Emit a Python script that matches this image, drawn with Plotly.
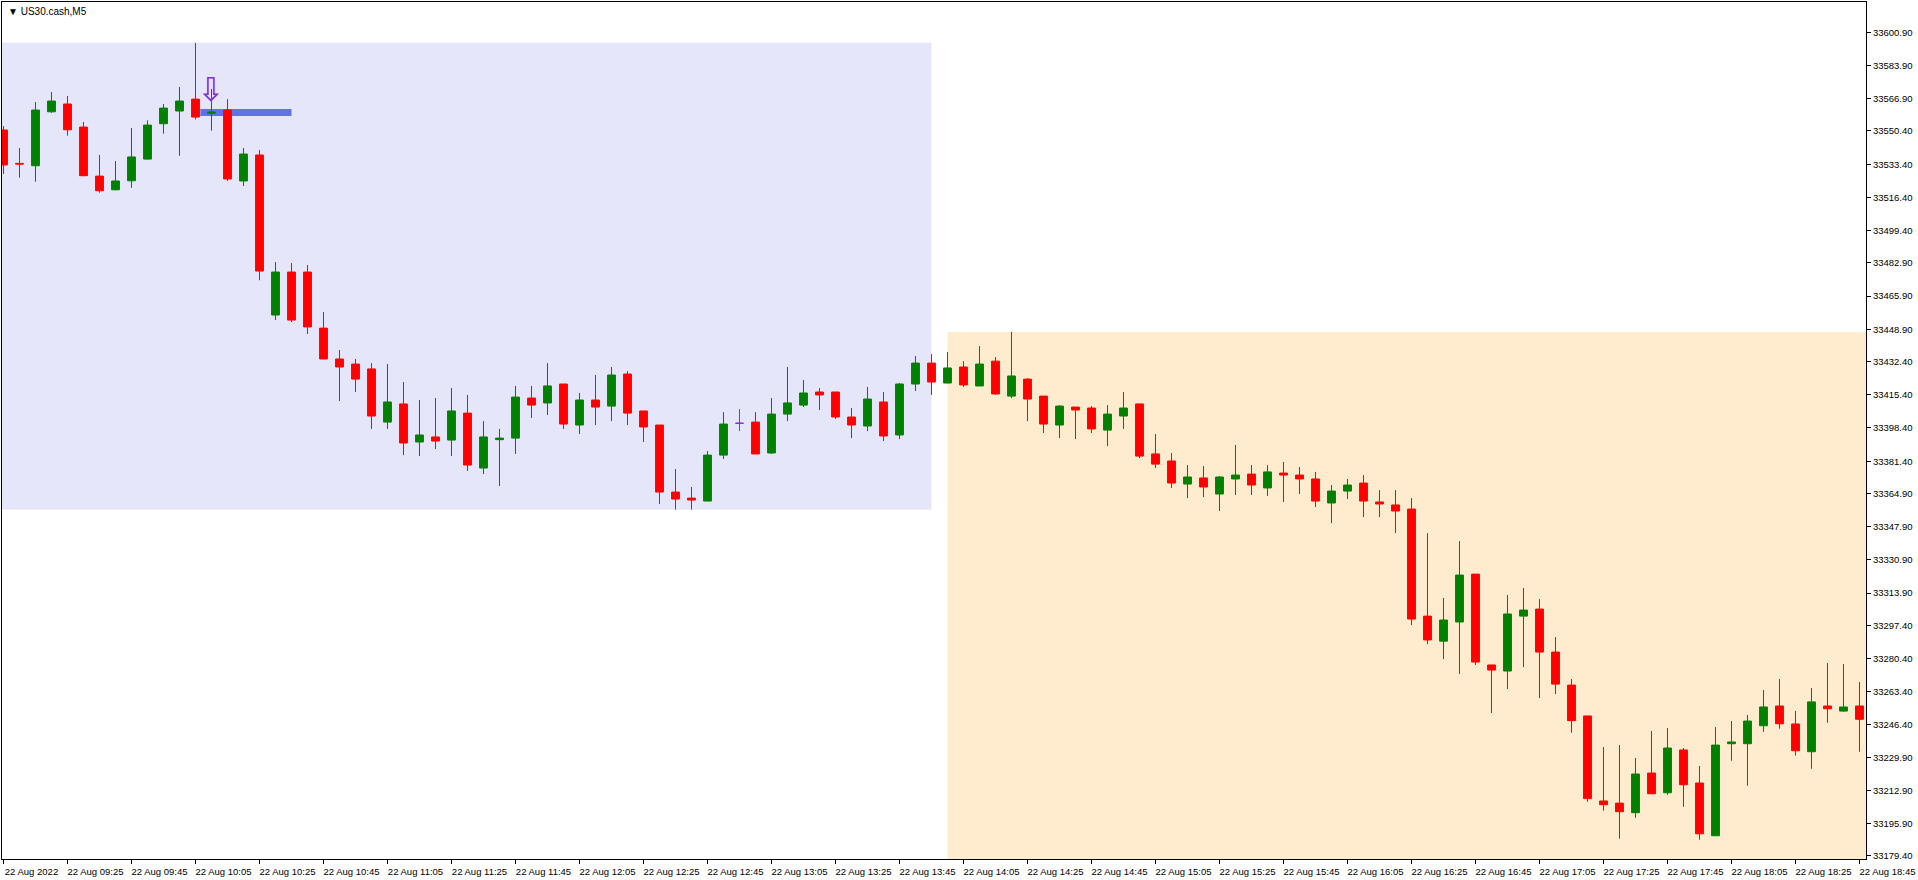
import pandas as pd
import plotly.graph_objects as go

# US30.cash M5 bars, 22 Aug 2022 09:05 .. 18:45
bar_times = pd.date_range('2022-08-22 09:05', periods=117, freq='5min')

opens = [33550.9, 33533.8, 33532.6, 33560.2, 33564.2, 33552.4, 33527.3, 33520.3, 33524.9, 33536.0,
         33554.1, 33560.6, 33566.7, 33559.5, 33561.1, 33524.8, 33538.1, 33456.2, 33478.2, 33478.2,
         33449.5, 33433.7, 33431.1, 33428.6, 33401.4, 33410.7, 33391.2, 33393.8, 33392.2, 33406.0,
         33377.9, 33392.4, 33393.2, 33413.7, 33411.2, 33420.9, 33399.9, 33412.7, 33409.6, 33426.0,
         33407.1, 33399.9, 33365.6, 33362.5, 33361.0, 33384.5, 33400.8, 33401.4, 33385.6, 33405.5,
         33410.1, 33416.8, 33416.8, 33404.0, 33399.4, 33411.7, 33394.8, 33420.9, 33431.6, 33421.4,
         33429.6, 33419.9, 33432.6, 33414.7, 33423.4, 33414.7, 33399.9, 33409.1, 33408.6, 33397.3,
         33404.5, 33410.7, 33385.1, 33381.5, 33369.7, 33372.8, 33364.6, 33372.3, 33374.8, 33367.7,
         33375.3, 33374.3, 33372.3, 33360.0, 33366.1, 33370.2, 33360.5, 33359.0, 33356.9, 33302.1,
         33289.3, 33299.1, 33323.6, 33277.1, 33274.0, 33302.1, 33305.7, 33283.7, 33266.8, 33251.0,
         33207.5, 33206.4, 33201.5, 33221.8, 33211.7, 33233.6, 33216.7, 33189.7, 33236.8, 33236.8,
         33246.0, 33256.1, 33246.9, 33232.7, 33256.1, 33253.5, 33256.1]
highs = [33552.9, 33541.7, 33565.2, 33570.3, 33568.3, 33555.0, 33538.1, 33535.0, 33551.9, 33555.8,
         33564.2, 33572.9, 33595.5, 33571.9, 33566.7, 33541.7, 33540.6, 33483.3, 33482.8, 33481.8,
         33457.7, 33438.3, 33433.7, 33431.6, 33431.1, 33421.9, 33412.7, 33413.7, 33418.8, 33415.3,
         33401.9, 33397.9, 33419.9, 33419.9, 33431.6, 33420.9, 33416.3, 33425.5, 33429.6, 33427.5,
         33407.1, 33399.9, 33377.4, 33368.2, 33386.6, 33406.5, 33408.1, 33406.5, 33413.7, 33429.6,
         33422.9, 33418.8, 33416.8, 33408.6, 33419.4, 33416.8, 33421.4, 33435.2, 33436.2, 33437.3,
         33432.6, 33440.3, 33434.7, 33447.5, 33423.9, 33414.7, 33410.1, 33409.1, 33409.6, 33410.1,
         33416.8, 33410.7, 33395.3, 33385.6, 33379.4, 33378.9, 33373.8, 33389.7, 33379.4, 33379.4,
         33381.0, 33378.4, 33375.9, 33369.2, 33372.3, 33374.3, 33366.6, 33366.6, 33362.5, 33344.6,
         33311.4, 33340.5, 33323.6, 33277.1, 33312.9, 33316.5, 33310.8, 33291.4, 33269.9, 33251.0,
         33235.1, 33236.1, 33229.5, 33243.3, 33244.8, 33234.6, 33225.4, 33245.3, 33248.4, 33251.5,
         33264.3, 33269.9, 33253.6, 33265.3, 33278.1, 33277.6, 33268.4]
lows = [33528.4, 33526.5, 33524.4, 33559.7, 33548.0, 33527.3, 33518.8, 33520.0, 33521.3, 33535.9,
        33549.0, 33537.7, 33556.3, 33550.5, 33524.8, 33522.2, 33474.0, 33453.6, 33452.6, 33446.5,
        33433.6, 33412.2, 33416.8, 33397.9, 33397.9, 33384.5, 33384.0, 33387.6, 33384.0, 33376.4,
        33374.8, 33368.7, 33385.1, 33403.5, 33405.0, 33397.9, 33395.3, 33399.9, 33401.9, 33399.9,
        33391.2, 33359.5, 33356.6, 33356.6, 33361.0, 33382.5, 33396.8, 33385.0, 33385.1, 33401.9,
        33409.1, 33407.6, 33403.0, 33393.2, 33396.8, 33391.7, 33392.7, 33417.3, 33415.3, 33421.3,
        33419.4, 33419.8, 33415.3, 33413.7, 33401.9, 33395.8, 33393.2, 33392.7, 33395.8, 33389.1,
        33397.9, 33383.0, 33377.9, 33367.7, 33362.5, 33363.0, 33355.9, 33364.1, 33364.1, 33363.6,
        33360.5, 33364.6, 33357.9, 33349.7, 33362.0, 33352.8, 33352.8, 33344.6, 33297.5, 33287.8,
        33280.1, 33272.5, 33277.1, 33252.5, 33264.8, 33276.0, 33260.2, 33262.2, 33242.4, 33207.1,
        33202.5, 33188.2, 33198.9, 33211.0, 33210.7, 33204.5, 33187.7, 33189.6, 33228.1, 33215.3,
        33242.9, 33244.5, 33230.7, 33224.0, 33247.5, 33253.2, 33232.7]
closes = [33533.0, 33533.5, 33561.1, 33565.7, 33551.0, 33527.5, 33519.8, 33524.8, 33537.1, 33553.4,
          33562.1, 33565.7, 33557.5, 33560.0, 33525.8, 33538.6, 33478.7, 33478.2, 33453.6, 33450.1,
          33433.7, 33429.6, 33423.4, 33404.5, 33411.7, 33390.7, 33394.8, 33391.7, 33407.1, 33379.4,
          33393.8, 33393.2, 33414.2, 33410.1, 33419.9, 33400.4, 33412.7, 33409.1, 33425.5, 33406.0,
          33398.9, 33365.6, 33362.0, 33361.5, 33384.5, 33400.4, 33400.8, 33385.1, 33405.5, 33411.2,
          33416.3, 33415.3, 33404.0, 33399.9, 33413.2, 33394.3, 33420.9, 33431.6, 33421.9, 33429.1,
          33420.4, 33431.1, 33415.8, 33425.0, 33413.2, 33400.4, 33409.6, 33407.6, 33397.9, 33405.5,
          33408.6, 33384.0, 33379.9, 33370.2, 33373.3, 33368.2, 33373.3, 33374.3, 33369.2, 33375.9,
          33374.3, 33372.3, 33361.0, 33366.1, 33369.2, 33361.0, 33359.5, 33355.9, 33300.6, 33289.9,
          33300.1, 33323.1, 33278.6, 33274.5, 33303.2, 33305.2, 33283.7, 33267.3, 33248.6, 33208.7,
          33205.6, 33202.0, 33221.3, 33211.2, 33234.6, 33215.8, 33190.7, 33236.1, 33237.7, 33248.4,
          33255.6, 33247.0, 33233.2, 33258.2, 33254.7, 33255.6, 33249.3]

# bar drawn in the object colour instead of bull/bear colour
marked_bar = 46

# objects on the chart
sell_zone = dict(start='2022-08-22 09:00', end='2022-08-22 13:55', low=33356.6, high=33595.5)
buy_zone = dict(start='2022-08-22 14:00', end='2022-08-22 19:00', low=33170.0, high=33447.5)
level = dict(start='2022-08-22 10:06:30', end='2022-08-22 10:35', price=33559.9)
arrow = dict(time=bar_times[13], price=33565.7)

price_ticks = [33600.90, 33583.90, 33566.90, 33550.40, 33533.40, 33516.40, 33499.40, 33482.90,
               33465.90, 33448.90, 33432.40, 33415.40, 33398.40, 33381.40, 33364.90, 33347.90,
               33330.90, 33313.90, 33297.40, 33280.40, 33263.40, 33246.40, 33229.90, 33212.90,
               33195.90, 33179.40]
time_ticks = pd.date_range('2022-08-22 09:05', '2022-08-22 18:45', freq='20min')
time_labels = ['22 Aug 2022', '22 Aug 09:25', '22 Aug 09:45', '22 Aug 10:05', '22 Aug 10:25',
               '22 Aug 10:45', '22 Aug 11:05', '22 Aug 11:25', '22 Aug 11:45', '22 Aug 12:05',
               '22 Aug 12:25', '22 Aug 12:45', '22 Aug 13:05', '22 Aug 13:25', '22 Aug 13:45',
               '22 Aug 14:05', '22 Aug 14:25', '22 Aug 14:45', '22 Aug 15:05', '22 Aug 15:25',
               '22 Aug 15:45', '22 Aug 16:05', '22 Aug 16:25', '22 Aug 16:45', '22 Aug 17:05',
               '22 Aug 17:25', '22 Aug 17:45', '22 Aug 18:05', '22 Aug 18:25', '22 Aug 18:45']

df = pd.DataFrame({'time': bar_times, 'open': opens, 'high': highs, 'low': lows, 'close': closes})
normal = df.drop(index=marked_bar)
marked = df.loc[[marked_bar]]

FONT = 'Liberation Sans, Arial, sans-serif'

fig = go.Figure()
fig.add_trace(go.Candlestick(
    x=normal['time'], open=normal['open'], high=normal['high'], low=normal['low'], close=normal['close'],
    increasing=dict(line=dict(color='#008000', width=1), fillcolor='#008000'),
    decreasing=dict(line=dict(color='#ff0000', width=1), fillcolor='#ff0000'),
    hoverinfo='skip'
))
fig.add_trace(go.Candlestick(
    x=marked['time'], open=marked['open'], high=marked['high'], low=marked['low'], close=marked['close'],
    increasing=dict(line=dict(color='#8a2be2', width=1), fillcolor='#8a2be2'),
    decreasing=dict(line=dict(color='#8a2be2', width=1), fillcolor='#8a2be2'),
    hoverinfo='skip'
))

fig.add_shape(type='rect', layer='below', line_width=0, fillcolor='#e6e6fa',
              x0=sell_zone['start'], x1=sell_zone['end'], y0=sell_zone['low'], y1=sell_zone['high'])
fig.add_shape(type='rect', layer='below', line_width=0, fillcolor='#ffebcd',
              x0=buy_zone['start'], x1=buy_zone['end'], y0=buy_zone['low'], y1=buy_zone['high'])
fig.add_shape(type='line', layer='below', line=dict(color='#5f73e6', width=7),
              x0=level['start'], x1=level['end'], y0=level['price'], y1=level['price'])

fig.add_annotation(x=arrow['time'], y=arrow['price'], text='⇩', showarrow=False,
                   yanchor='bottom', yshift=-10,
                   font=dict(family='DejaVu Sans', size=33, color='#8a2be2'))
fig.add_annotation(xref='paper', yref='paper', x=0, y=1, xanchor='left', yanchor='top',
                   xshift=4, yshift=-2, showarrow=False, text='▼ US30.cash,M5',
                   font=dict(family=FONT, size=10, color='#000000'))

fig.update_layout(
    width=1918, height=880,
    margin=dict(l=2, r=52, t=2, b=21),
    paper_bgcolor='#ffffff', plot_bgcolor='#ffffff',
    showlegend=False,
    font=dict(family=FONT, size=9.5, color='#000000'),
    xaxis=dict(
        type='date', range=['2022-08-22 09:04:32', '2022-08-22 18:47:02'],
        rangeslider=dict(visible=False), showgrid=False, zeroline=False,
        showline=True, linecolor='#000000', linewidth=1, mirror=True,
        ticks='outside', ticklen=4, tickcolor='#000000',
        tickvals=time_ticks, ticktext=time_labels, ticklabelshift=28, ticklabelstandoff=0
    ),
    yaxis=dict(
        side='right', range=[33177.8, 33616.4], showgrid=False, zeroline=False,
        showline=True, linecolor='#000000', linewidth=1, mirror=True,
        ticks='outside', ticklen=4, tickcolor='#000000',
        tickvals=price_ticks, ticktext=['%.2f' % v for v in price_ticks]
    ),
)

# the page has no body margin so the chart fills the window like the terminal view
fig.write_html("out.html", config={'displayModeBar': False},
               post_script="document.body.style.margin='0';")
